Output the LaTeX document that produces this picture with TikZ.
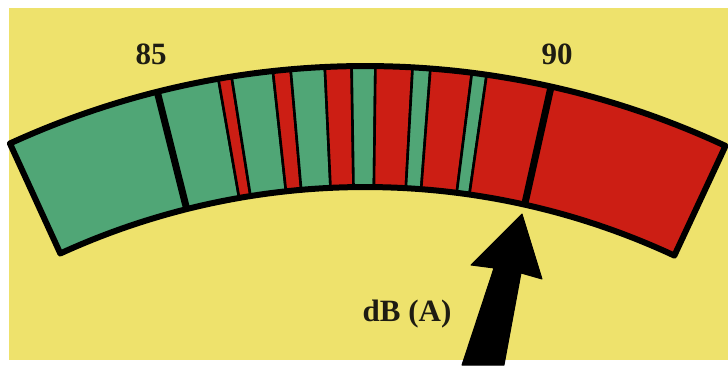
\documentclass[tikz,border=0pt]{standalone}
\usepackage{fontspec}
\setmainfont{Liberation Serif}
\usepackage{xcolor}
\usepackage{tikz}
\usetikzlibrary{positioning}
\definecolor{paper}{RGB}{238,226,108}
\definecolor{mgreen}{RGB}{80,166,118}
\definecolor{mred}{RGB}{204,30,20}
\definecolor{ink}{RGB}{30,28,18}
\tikzset{
  band/.style    ={draw=black, line width=2.6pt, line join=round},
  rim/.style     ={draw=black, line width=6pt, line join=round},
  tick/.style    ={draw=black, line width=7pt},
  scalelbl/.style={font=\fontsize{31}{31}\selectfont\bfseries, text=ink,
                   anchor=base, inner sep=0pt},
  pointer/.style ={fill=black, draw=black, line width=1pt, line join=round},
}

\begin{document}
\begin{tikzpicture}[x=1pt, y=1pt]

  \useasboundingbox (0,0) rectangle (728,365);
  \fill[paper] (9,5) rectangle (728,357);

  % meter scale, centre of the arc below the picture
  \begin{scope}[shift={(365,-554)}]
    \def\ro{853}
    \def\ri{732}
    \foreach \a/\b/\c in {114.6/104.1/mgreen, 104.1/99.9/mgreen, 99.9/99.0/mred,
        99.0/96.2/mgreen, 96.2/95.0/mred, 95.0/92.7/mgreen, 92.7/90.9/mred,
        90.9/89.3/mgreen, 89.3/86.8/mred, 86.8/85.6/mgreen, 85.6/82.8/mred,
        82.8/81.8/mgreen, 81.8/77.4/mred, 77.4/65.0/mred}
      \filldraw[band, fill=\c] (\a:\ro) arc[start angle=\a, end angle=\b, radius=\ro]
        -- (\b:\ri) arc[start angle=\b, end angle=\a, radius=\ri] -- cycle;

    \draw[tick] (104.1:\ri) -- (104.1:\ro);
    \draw[tick] (77.4:\ri) -- (77.4:\ro);

    \draw[rim] (114.6:\ro) arc[start angle=114.6, end angle=65.0, radius=\ro]
      -- (65.0:\ri) arc[start angle=65.0, end angle=114.6, radius=\ri] -- cycle;
  \end{scope}

  \node[scalelbl] (lo) at (151,300) {85};
  \node[scalelbl] (hi) at (557,300) {90};
  \node[scalelbl] (unit) at (407,44) {dB (A)};

  % pointer
  \filldraw[pointer] (462,0) -- (494,97) -- (471,100) -- (522,151)
    -- (542,86) -- (521,92) -- (504,0) -- cycle;

\end{tikzpicture}
\end{document}
